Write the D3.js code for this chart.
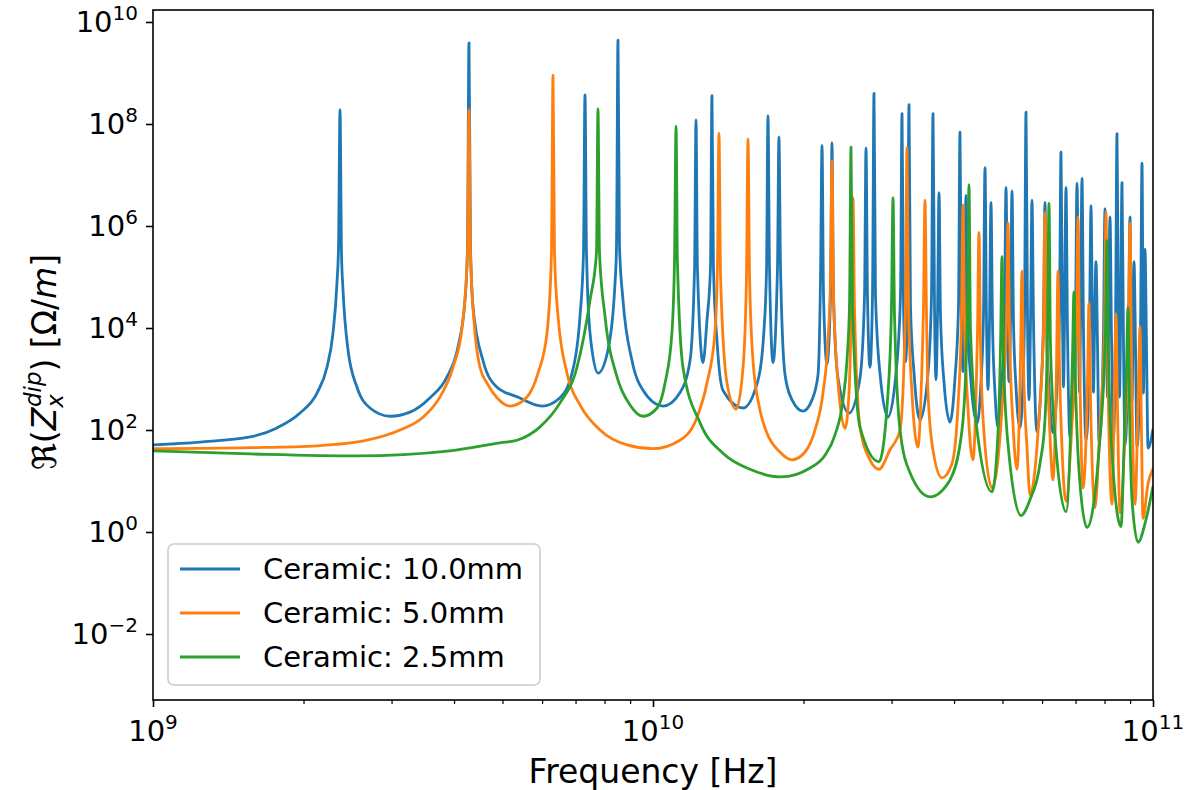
<!DOCTYPE html>
<html>
<head>
<meta charset="utf-8">
<script src="https://cdn.jsdelivr.net/npm/d3@7"></script>
<style>
  body { margin: 0; background: #fff; }
  svg { display: block; }
  text { font-family: "DejaVu Sans", sans-serif; fill: #000; }
</style>
</head>
<body>
<div id="chart"></div>
<script>
// data: [frequency in GHz, Re(Z) in Ohm/m]
var blue10 = [
  [1.000,51],[1.242,58],[1.563,73],[1.770,110],[1.968,215],[2.128,530],[2.228,1.7e3],[2.291,8e3],[2.333,7.6e4],[2.350,4e5],
  [2.366,1.9e8],[2.382,3e5],[2.399,5.6e4],[2.455,3.7e3],[2.559,690],[2.716,270],[2.979,186],[3.266,224],[3.581,430],[3.873,1.1e3],
  [4.074,4.3e3],[4.207,3.5e4],[4.256,4e5],[4.285,3.9e9],[4.315,4e5],[4.365,2.6e4],[4.571,2.3e3],[4.875,690],[5.346,450],[5.998,295],
  [6.516,430],[6.887,1.3e3],[7.145,1.7e4],[7.261,3e5],[7.311,3.7e8],[7.362,3e5],[7.482,8e3],[7.762,1.3e3],[8.128,3.7e3],[8.395,7.6e4],
  [8.453,4e5],[8.511,4.4e9],[8.570,4e5],[8.710,3.5e4],[9.078,2.3e3],[9.550,600],[10.47,295],[11.32,540],[11.86,2.3e3],[12.11,1.5e5],
  [12.19,1.2e8],[12.27,1.5e5],[12.59,2.1e3],[12.82,1.4e4],[13.03,1.5e5],[13.12,3.6e8],[13.21,1.5e5],[13.43,5.5e3],[13.80,600],[15.14,270],
  [16.22,950],[16.67,9e3],[16.87,1.5e5],[16.98,1.45e8],[17.10,1.5e5],[17.38,2.1e3],[17.74,1.5e5],[17.86,5.6e7],[17.99,1.5e5],[18.37,1.2e3],
  [18.97,390],[19.95,235],[20.80,390],[21.38,1.2e3],[21.63,1e5],[21.78,3.8e7],[21.93,4.4e4],[22.28,2e3],[22.65,4.4e4],[22.80,4.3e7],
  [22.96,4.4e4],[23.44,1.05e3],[24.66,215],[25.94,1.05e3],[26.49,4.4e4],[26.67,3.4e7],[26.85,4.4e4],[27.16,1.7e3],[27.48,4.4e4],[27.67,4e8],
  [27.86,4.4e4],[28.44,1.3e3],[29.51,180],[30.62,1.3e3],[31.26,4.4e4],[31.48,1.6e8],[31.70,2.6e4],[31.99,2.2e3],[32.28,2.6e4],[32.51,2.4e8],
  [32.73,2.6e4],[33.27,1.3e3],[34.20,157],[35.48,1.3e3],[36.06,4.4e4],[36.31,1.6e8],[36.56,2.6e4],[36.81,970],[37.07,1.8e4],[37.33,4.5e6],
  [37.58,1.8e4],[38.19,880],[39.26,143],[40.18,1.05e3],[40.83,2.6e4],[41.11,6.9e7],[41.40,1.8e4],[41.69,1.4e3],[41.98,1.8e4],[42.27,4e6],
  [42.56,1.8e4],[43.25,880],[44.46,136],[45.29,880],[45.81,1.8e4],[46.13,1.4e7],[46.45,1.3e4],[46.77,620],[47.10,1.3e4],[47.42,2.9e6],
  [47.75,1.3e4],[48.31,530],[48.98,114],[49.89,880],[50.47,1.8e4],[50.82,5.7e6],[51.17,1.3e4],[51.52,880],[51.88,1.3e4],[52.24,4.9e6],
  [52.60,1.3e4],[53.21,700],[54.20,111],[54.95,880],[55.34,1.8e4],[55.72,1.7e8],[56.10,1.8e4],[56.49,390],[56.89,1.3e4],[57.28,3.2e6],
  [57.68,1.3e4],[58.61,92],[59.70,700],[60.39,1.3e4],[60.81,2.9e6],[61.24,1.3e4],[61.94,700],[63.10,88],[64.27,700],[65.01,1.8e4],
  [65.46,2.8e7],[65.92,1.3e4],[66.22,700],[66.53,1.3e4],[66.99,5.7e6],[67.45,8.8e3],[68.23,70],[69.18,530],[69.98,1.3e4],[70.47,6.9e6],
  [70.96,1.3e4],[71.29,550],[71.62,1.3e4],[72.11,8.6e6],[72.61,8.8e3],[73.45,62],[74.30,440],[74.64,8.8e3],[75.16,2.5e6],[75.68,8.8e3],
  [76.03,550],[76.38,8.8e3],[76.91,2e5],[77.45,4.4e3],[77.98,58],[79.07,440],[79.62,8.8e3],[80.17,2.2e6],[80.72,8.8e3],[81.10,440],
  [81.47,8.8e3],[82.04,1.5e6],[82.60,7e3],[83.37,70],[84.14,8.8e3],[84.72,6.5e7],[85.31,8.8e3],[85.70,440],[86.10,8.8e3],[86.70,7.1e6],
  [87.30,4.4e3],[87.90,51],[89.33,8.8e3],[89.95,1.5e6],[90.78,350],[91.62,2e5],[92.26,4.4e3],[92.90,46],[94.41,8.8e3],[95.06,1.7e7],
  [95.72,530],[96.38,3.5e5],[97.05,4.4e3],[97.72,44],[100,105]
];

var orange5 = [
  [1.000,43],[1.563,45],[2.128,49],[2.679,63],[3.119,100],[3.467,178],[3.750,445],[3.981,1.7e3],[4.150,1e4],[4.256,3e5],
  [4.285,1.9e8],[4.315,3e5],[4.406,8e3],[4.508,1.7e3],[4.656,830],[4.875,430],[5.176,295],[5.598,445],[5.888,1.3e3],[6.138,8e3],
  [6.266,3e5],[6.310,9e8],[6.353,3e5],[6.457,1.7e4],[6.730,1.3e3],[7.145,310],[7.834,100],[8.872,51],[10.00,43],[11.32,63],
  [12.25,178],[12.82,830],[13.30,8e3],[13.46,2e5],[13.55,6.6e7],[13.65,1e5],[14.06,830],[14.66,257],[15.14,1.7e3],[15.38,1e5],
  [15.49,5.1e7],[15.60,1e5],[15.85,2.3e3],[16.37,245],[16.90,87],[17.94,37],[18.97,26],[20.14,37],[21.09,100],[21.88,540],
  [22.39,5.8e3],[22.65,1e5],[22.80,1.9e7],[22.96,4.4e4],[23.44,880],[24.21,108],[24.66,530],[24.95,4.4e4],[25.12,3.6e6],[25.29,2.6e4],
  [25.94,115],[27.16,26],[28.31,17],[29.79,41],[31.19,100],[31.99,2.6e4],[32.21,3.4e7],[32.43,2.6e4],[32.96,530],[33.88,46],
  [34.43,880],[34.75,2.6e4],[34.99,3.2e6],[35.24,1.8e4],[35.48,530],[36.31,40],[37.84,11.5],[39.63,22],[40.74,300],[41.40,1.8e4],
  [41.69,2.6e6],[41.98,1.3e4],[42.66,265],[43.65,26],[44.26,440],[44.57,8.8e3],[44.87,7.5e5],[45.19,4.4e3],[45.92,88],[47.64,7.3],
  [49.89,265],[50.93,1.3e4],[51.29,1.15e6],[51.64,8.8e3],[52.48,132],[53.46,17],[54.33,2.6e3],[54.70,1.3e5],[55.08,1.8e3],[55.98,44],
  [56.75,5.3],[59.16,176],[60.39,8.8e3],[60.81,1.85e6],[61.24,8.8e3],[62.09,132],[63.10,10.5],[64.12,1.8e3],[64.57,1.3e5],[65.01,1.8e3],
  [65.77,44],[66.99,4],[68.87,132],[70.31,8.8e3],[70.79,1.5e6],[71.29,4.4e3],[72.44,7.3],[73.96,880],[74.47,3.1e4],[74.99,440],
  [76.56,3],[78.34,132],[79.98,8.8e3],[80.54,1.9e6],[81.10,4.4e3],[82.79,3.5],[83.75,880],[84.33,1.9e4],[84.92,265],[85.90,2.4],
  [87.90,88],[89.33,8.8e3],[89.95,1.15e6],[90.57,2.6e3],[92.05,3.5],[93.54,880],[94.19,1.05e4],[94.84,88],[95.50,1.85],[97.72,8.8],
  [100,17.6]
];

var green25 = [
  [1.000,39],[1.563,34],[2.559,31],[3.926,39],[4.943,56],[5.346,63],[5.943,115],[6.516,340],[7.047,1.7e3],[7.482,3.5e4],
  [7.709,3e5],[7.762,2e8],[7.816,3e5],[8.017,1.7e4],[8.472,1.1e3],[8.995,310],[9.550,186],[10.19,270],[10.57,830],[10.91,8e3],
  [11.04,2e5],[11.12,9.1e7],[11.19,2e5],[11.48,1.7e3],[12.42,138],[13.80,35],[15.63,17],[18.03,12],[20.61,18],[22.08,32],
  [23.12,80],[23.99,390],[24.43,2.3e3],[24.72,3e4],[24.89,3.5e7],[25.06,2.6e4],[25.94,114],[28.31,24],[29.51,530],[29.99,2.6e4],
  [30.20,3.6e6],[30.41,1.8e4],[31.19,100],[32.66,14.5],[35.81,4.9],[39.26,10.5],[41.50,100],[42.56,1.8e4],[42.85,6.5e6],[43.15,8.8e3],
  [44.67,70],[47.64,6.1],[48.98,88],[49.55,4.4e3],[49.89,2.5e5],[50.23,2.6e3],[51.29,53],[54.45,2.1],[56.75,4.3],[59.43,22],
  [60.81,160],[61.52,8.8e3],[61.94,2.8e6],[62.37,4.4e3],[63.97,44],[66.99,2.5],[69.02,2.6e3],[69.50,5.1e4],[69.98,880],[71.45,8.8],
  [73.79,1.23],[78.34,70],[80.35,8.8e3],[80.91,5.2e5],[81.47,2.6e3],[83.18,17.6],[86.30,1.28],[87.50,44],[88.51,1.8e3],[89.13,2.5e4],
  [89.74,265],[90.78,4.4],[93.33,0.63],[96.83,1.76],[100,7.9]
];

var seriesNames = ["Ceramic: 10.0mm", "Ceramic: 5.0mm", "Ceramic: 2.5mm"];
var seriesColors = ["#1f77b4", "#ff7f0e", "#2ca02c"];
var xTickExps = [9, 10, 11];
var yTickExps = [-2, 0, 2, 4, 6, 8, 10];

//Setting up chart
var svgWidth = 1186;
var svgHeight = 790;
var margin = {top: 10, right: 33, bottom: 90, left: 153};
var width = svgWidth - margin.left - margin.right;
var height = svgHeight - margin.top - margin.bottom;

var svg = d3.select('#chart').append('svg')
  .attr('width', svgWidth)
  .attr('height', svgHeight);

var chartGroup = svg.append('g')
  .attr('transform', `translate(${margin.left}, ${margin.top})`);

//scales
var xScale = d3.scaleLog().domain([1e9, 1e11]).range([0, width]);
var yScale = d3.scaleLog().domain([Math.pow(10, -3.294), Math.pow(10, 10.235)]).range([height, 0]);

chartGroup.append('clipPath').attr('id', 'plotclip')
  .append('rect').attr('width', width).attr('height', height);

var line = d3.line()
  .x(function(d) { return xScale(d[0] * 1e9); })
  .y(function(d) { return yScale(d[1]); })
  .curve(d3.curveMonotoneX);

var allSeries = [blue10, orange5, green25];
allSeries.forEach(function(s, i) {
  chartGroup.append('path')
    .datum(s)
    .attr('clip-path', 'url(#plotclip)')
    .attr('fill', 'none')
    .attr('stroke', seriesColors[i])
    .attr('stroke-width', 2.8)
    .attr('stroke-linejoin', 'round')
    .attr('d', line);
});

//axes (ticks only, labels drawn below with superscripts)
var xMajor = xTickExps.map(function(e) { return Math.pow(10, e); });
var xMinor = xScale.ticks().filter(function(t) {
  return Math.abs(Math.log10(t) - Math.round(Math.log10(t))) > 1e-6;
});
var yMajor = yTickExps.map(function(e) { return Math.pow(10, e); });

var xAxisMajor = chartGroup.append('g').attr('transform', `translate(0, ${height})`)
  .call(d3.axisBottom(xScale).tickValues(xMajor).tickSize(7).tickFormat(''));
var xAxisMinor = chartGroup.append('g').attr('transform', `translate(0, ${height})`)
  .call(d3.axisBottom(xScale).tickValues(xMinor).tickSize(4).tickFormat(''));
var yAxis = chartGroup.append('g')
  .call(d3.axisLeft(yScale).tickValues(yMajor).tickSize(7).tickFormat(''));

[xAxisMajor, xAxisMinor, yAxis].forEach(function(a) {
  a.select('.domain').remove();
  a.selectAll('.tick line').attr('stroke', '#000').attr('stroke-width', 1.6);
});
xAxisMinor.selectAll('.tick line').attr('stroke-width', 1.2);

// frame
chartGroup.append('rect')
  .attr('width', width).attr('height', height)
  .attr('fill', 'none').attr('stroke', '#000').attr('stroke-width', 1.6);

// tick labels
xTickExps.forEach(function(e) {
  var t = chartGroup.append('text')
    .attr('x', xScale(Math.pow(10, e)))
    .attr('y', height + 41)
    .attr('text-anchor', 'middle')
    .style('font-size', '29px');
  t.append('tspan').text('10');
  t.append('tspan').attr('dy', -12).style('font-size', '20px').text(e);
});

yTickExps.forEach(function(e) {
  var t = chartGroup.append('text')
    .attr('x', -15)
    .attr('y', yScale(Math.pow(10, e)) + 10)
    .attr('text-anchor', 'end')
    .style('font-size', '29px');
  t.append('tspan').text('10');
  t.append('tspan').attr('dy', -12).style('font-size', '20px').text(e < 0 ? '\u2212' + (-e) : e);
});

// axis labels
svg.append('text')
  .attr('x', margin.left + width / 2)
  .attr('y', 783)
  .attr('text-anchor', 'middle')
  .style('font-size', '33px')
  .text('Frequency [Hz]');

var yLabel = svg.append('text')
  .attr('transform', 'translate(56, 362) rotate(-90)')
  .attr('text-anchor', 'middle')
  .style('font-size', '33px');
yLabel.append('tspan').text('\u211C(');
yLabel.append('tspan').style('font-style', 'italic').text('Z');
yLabel.append('tspan').attr('dy', 7).style('font-style', 'italic').style('font-size', '23px').text('x');
yLabel.append('tspan').attr('dx', -13).attr('dy', -22).style('font-style', 'italic').style('font-size', '23px').text('dip');
yLabel.append('tspan').attr('dy', 15).text(') [\u03A9/');
yLabel.append('tspan').style('font-style', 'italic').text('m');
yLabel.append('tspan').text(']');

// legend
var legend = chartGroup.append('g').attr('transform', 'translate(15, 534)');
legend.append('rect')
  .attr('width', 372).attr('height', 141)
  .attr('rx', 6).attr('ry', 6)
  .attr('fill', '#fff').attr('fill-opacity', 0.8)
  .attr('stroke', '#cccccc').attr('stroke-width', 1.6);

seriesNames.forEach(function(name, i) {
  var rowY = 25 + i * 44;
  legend.append('line')
    .attr('x1', 12).attr('x2', 72)
    .attr('y1', rowY).attr('y2', rowY)
    .attr('stroke', seriesColors[i]).attr('stroke-width', 2.8);
  legend.append('text')
    .attr('x', 95).attr('y', rowY + 10)
    .style('font-size', '29px')
    .text(name);
});
</script>
</body>
</html>
